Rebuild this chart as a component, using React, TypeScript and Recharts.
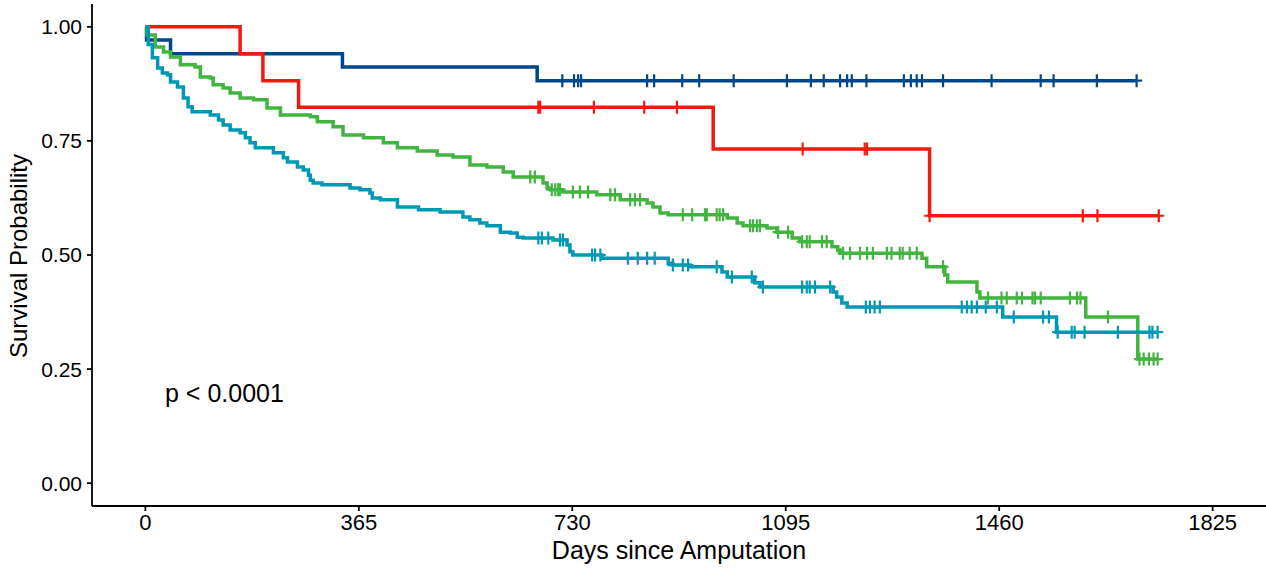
import { ComposedChart, Line, Scatter, XAxis, YAxis } from 'recharts';

// Kaplan-Meier curves (days, survival)
const xTicks = [0, 365, 730, 1095, 1460, 1825];
const yTicks = [0, 0.25, 0.5, 0.75, 1];

const blueTimes = [0, 2, 43, 337, 670, 1695];
const blueSurv = [1, 0.971, 0.941, 0.912, 0.882, 0.882];
const blueCensored = [713, 733, 740, 745, 858, 870, 918, 947, 1006, 1097, 1138, 1160, 1188, 1200, 1208, 1233, 1297, 1309, 1319, 1328, 1364, 1447, 1531, 1553, 1627, 1695];

const redTimes = [0, 162, 201, 262, 971, 1341, 1733];
const redSurv = [1, 0.941, 0.882, 0.824, 0.732, 0.586, 0.586];
const redCensored = [672, 675, 767, 853, 909, 1124, 1230, 1234, 1341, 1603, 1628, 1733];

const greenTimes = [0, 3, 17, 31, 43, 60, 85, 94, 111, 116, 133, 145, 162, 185, 208, 231, 282, 294, 321, 338, 373, 407, 431, 465, 499, 526, 555, 584, 612, 629, 680, 687, 692, 714, 772, 812, 858, 868, 880, 894, 995, 1012, 1022, 1063, 1080, 1106, 1119, 1174, 1184, 1188, 1328, 1336, 1367, 1372, 1422, 1427, 1608, 1697, 1731];
const greenSurv = [1, 0.982, 0.956, 0.945, 0.934, 0.917, 0.912, 0.89, 0.888, 0.873, 0.866, 0.855, 0.844, 0.84, 0.822, 0.807, 0.803, 0.792, 0.781, 0.763, 0.757, 0.746, 0.735, 0.728, 0.719, 0.715, 0.697, 0.693, 0.682, 0.671, 0.658, 0.647, 0.643, 0.638, 0.632, 0.621, 0.614, 0.605, 0.592, 0.588, 0.581, 0.57, 0.564, 0.559, 0.55, 0.537, 0.529, 0.518, 0.511, 0.504, 0.493, 0.474, 0.456, 0.441, 0.419, 0.406, 0.364, 0.272, 0.272];
const greenCensored = [658, 666, 695, 701, 706, 709, 731, 743, 757, 795, 803, 829, 837, 846, 919, 935, 957, 960, 977, 982, 988, 1034, 1039, 1046, 1051, 1082, 1099, 1123, 1131, 1136, 1157, 1165, 1193, 1205, 1222, 1234, 1244, 1268, 1276, 1290, 1295, 1307, 1319, 1364, 1441, 1464, 1473, 1490, 1499, 1517, 1521, 1531, 1581, 1593, 1599, 1646, 1700, 1707, 1716, 1724, 1731];

const tealTimes = [0, 5, 12, 21, 29, 38, 43, 55, 65, 73, 80, 111, 125, 133, 145, 162, 171, 179, 188, 219, 236, 243, 260, 270, 279, 282, 287, 302, 350, 367, 384, 388, 402, 431, 467, 504, 543, 555, 572, 584, 607, 624, 636, 646, 697, 721, 726, 731, 781, 894, 902, 931, 986, 995, 1042, 1051, 1176, 1182, 1191, 1200, 1466, 1558, 1731];
const tealSurv = [1, 0.961, 0.932, 0.91, 0.899, 0.895, 0.879, 0.868, 0.844, 0.825, 0.814, 0.807, 0.796, 0.785, 0.774, 0.768, 0.757, 0.746, 0.735, 0.724, 0.713, 0.704, 0.693, 0.686, 0.675, 0.664, 0.658, 0.654, 0.647, 0.643, 0.636, 0.625, 0.621, 0.605, 0.599, 0.594, 0.583, 0.577, 0.57, 0.564, 0.55, 0.548, 0.539, 0.537, 0.533, 0.522, 0.507, 0.5, 0.493, 0.482, 0.478, 0.474, 0.463, 0.452, 0.439, 0.43, 0.419, 0.408, 0.395, 0.386, 0.364, 0.331, 0.331];
const tealCensored = [672, 678, 689, 709, 714, 764, 769, 778, 825, 842, 858, 871, 902, 919, 928, 977, 1003, 1037, 1056, 1123, 1131, 1136, 1145, 1171, 1232, 1239, 1247, 1256, 1396, 1405, 1413, 1422, 1437, 1456, 1485, 1535, 1545, 1560, 1584, 1589, 1606, 1663, 1717, 1722, 1731];

const series = [
  { name: 'blue', color: '#00468B', times: blueTimes, surv: blueSurv, censored: blueCensored },
  { name: 'red', color: '#EE1C0E', times: redTimes, surv: redSurv, censored: redCensored },
  { name: 'green', color: '#42B540', times: greenTimes, surv: greenSurv, censored: greenCensored },
  { name: 'teal', color: '#0099B4', times: tealTimes, surv: tealSurv, censored: tealCensored },
];

// survival value of a step curve at time t
const survAt = (times: number[], surv: number[], t: number) => {
  let v = surv[0];
  for (let i = 0; i < times.length; i++) {
    if (times[i] <= t) v = surv[i];
  }
  return v;
};

const plusShape = (color: string) => (props: any) => {
  const { cx, cy } = props;
  if (cx == null || cy == null) return <g />;
  return (
    <path
      d={`M${cx - 5.5},${cy}H${cx + 5.5}M${cx},${cy - 6.5}V${cy + 6.5}`}
      stroke={color}
      strokeWidth={2.2}
      fill="none"
    />
  );
};

const App = () => {
  return (
    <div style={{ position: 'absolute', left: 0, top: 0, fontFamily: '"Liberation Sans", Arial, sans-serif', background: '#fff' }}>
      <ComposedChart width={1266} height={569} margin={{ top: 4, right: 0, bottom: 0, left: 0 }}>
        <XAxis
          dataKey="t"
          type="number"
          domain={[-91.25, 1916.25]}
          ticks={xTicks}
          interval={0}
          height={63}
          tickSize={5}
          tickMargin={3}
          stroke="#000"
          strokeWidth={1.8}
          tick={{ fill: '#000', fontSize: 22 }}
        />
        <YAxis
          type="number"
          domain={[-0.05, 1.05]}
          ticks={yTicks}
          interval={0}
          width={92}
          tickSize={5}
          tickMargin={5}
          stroke="#000"
          strokeWidth={1.8}
          tickFormatter={(v: number) => v.toFixed(2)}
          tick={{ fill: '#000', fontSize: 21 }}
        />
        {series.map((s) => (
          <Line
            key={s.name + '-line'}
            data={s.times.map((t, i) => ({ t, s: s.surv[i] }))}
            dataKey="s"
            type="stepAfter"
            stroke={s.color}
            strokeWidth={3.5}
            dot={false}
            activeDot={false}
            isAnimationActive={false}
          />
        ))}
        {series.map((s) => (
          <Scatter
            key={s.name + '-cens'}
            data={s.censored.map((t) => ({ t, s: survAt(s.times, s.surv, t) }))}
            dataKey="s"
            shape={plusShape(s.color)}
            isAnimationActive={false}
          />
        ))}
        <text x={679} y={559} fontSize={25} fill="#000" textAnchor="middle">
          Days since Amputation
        </text>
        <text x={27} y={256} fontSize={24} fill="#000" textAnchor="middle" transform="rotate(-90, 27, 256)">
          Survival Probability
        </text>
        <text x={165} y={402} fontSize={25} fill="#000">
          p &lt; 0.0001
        </text>
      </ComposedChart>
    </div>
  );
};

export default App;
